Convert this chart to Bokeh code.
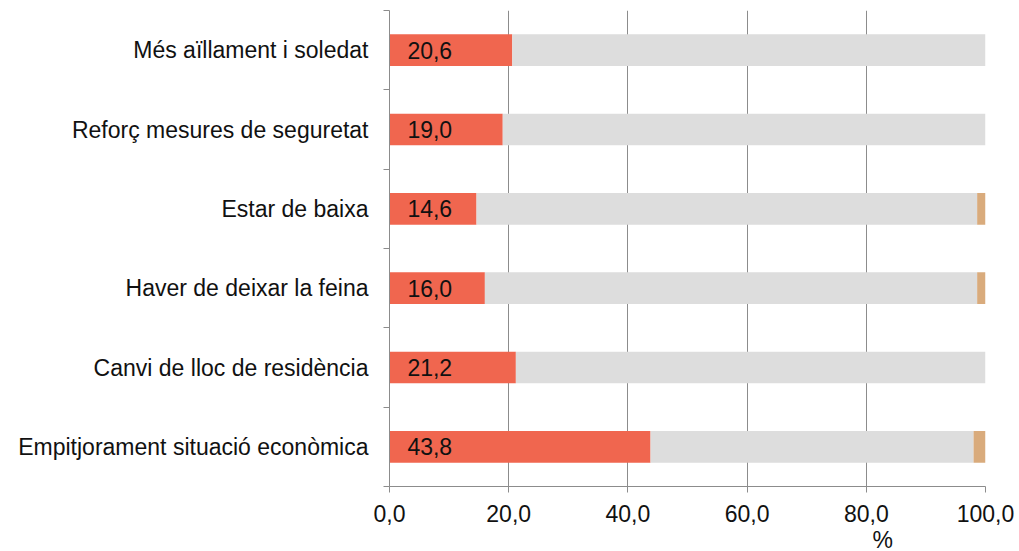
from bokeh.plotting import figure
from bokeh.models import (ColumnDataSource, Range1d, LinearAxis, FixedTicker, Title)
from bokeh.embed import file_html
from bokeh.resources import INLINE
from bokeh.core.properties import value

categories = ["Més aïllament i soledat", "Reforç mesures de seguretat", "Estar de baixa",
              "Haver de deixar la feina", "Canvi de lloc de residència",
              "Empitjorament situació econòmica"]
red_vals = [20.6, 19.0, 14.6, 16.0, 21.2, 43.8]
grey_vals = [79.4, 81.0, 84.0, 82.6, 78.8, 54.2]
tan_vals = [0.0, 0.0, 1.4, 1.4, 0.0, 2.0]
x_ticks = [0, 20, 40, 60, 80, 100]
x_tick_labels = ["0,0", "20,0", "40,0", "60,0", "80,0", "100,0"]
bar_labels = [f"{v:.1f}".replace(".", ",") for v in red_vals]
x_title = "%"

FONT = "Liberation Sans"
FS = "23px"
GRID = "#8c8c8c"
n = len(categories)
ypos = [n - 0.5 - i for i in range(n)]

src = ColumnDataSource(dict(y=ypos, red=red_vals, grey=grey_vals, tan=tan_vals,
                            lab=bar_labels, lx=[3.0] * n))

p = figure(y_range=Range1d(0, n), x_range=Range1d(0, 100),
           output_backend="svg", toolbar_location=None,
           y_axis_location=None, x_axis_location=None,
           frame_width=596, frame_height=476,
           min_border_left=389, min_border_right=34, min_border_top=10, min_border_bottom=65)
p.outline_line_color = None
p.background_fill_color = "white"

p.hbar_stack(["red", "grey", "tan"], y="y", height=0.4, source=src,
             color=["#f0664f", "#dddddd", "#d9ab7c"], line_color=None)

p.text(x="lx", y="y", text="lab", source=src, text_font=value(FONT),
       text_font_size=FS, text_align="left", text_baseline="middle", text_color="#111111")

# x axis
xa = LinearAxis(ticker=FixedTicker(ticks=x_ticks), major_label_overrides=dict(zip(x_ticks, x_tick_labels)))
xa.axis_line_color = GRID
xa.major_tick_line_color = GRID
xa.major_tick_out = 6
xa.major_tick_in = 0
xa.minor_tick_line_color = None
xa.major_label_text_font = FONT
xa.major_label_text_font_size = FS
xa.major_label_text_color = "#111111"
xa.major_label_standoff = 12
p.add_layout(xa, "below")

p.add_layout(Title(text=x_title, align="left", offset=483, text_font=FONT, text_font_size=FS,
                   text_font_style="normal", text_color="#111111", standoff=0), "below")

# boundary ticks on y (inner axis)
ya_b = LinearAxis(ticker=FixedTicker(ticks=list(range(n + 1))),
                  major_label_overrides={i: "" for i in range(n + 1)})
ya_b.axis_line_color = GRID
ya_b.major_tick_line_color = GRID
ya_b.major_tick_out = 6
ya_b.major_tick_in = 0
ya_b.minor_tick_line_color = None
ya_b.major_label_standoff = 0
ya_b.major_label_text_font_size = "1px"
p.add_layout(ya_b, "left")

# category labels (outer axis)
ya = LinearAxis(ticker=FixedTicker(ticks=ypos), major_label_overrides=dict(zip(ypos, categories)))
ya.axis_line_color = None
ya.major_tick_line_color = None
ya.minor_tick_line_color = None
ya.major_tick_out = 0
ya.major_label_text_font = FONT
ya.major_label_text_font_size = FS
ya.major_label_text_color = "#111111"
ya.major_label_standoff = 15
p.add_layout(ya, "left")

p.xgrid.ticker = FixedTicker(ticks=x_ticks)
p.xgrid.grid_line_color = GRID
p.ygrid.grid_line_color = None

open("out.html", "w").write(file_html(p, INLINE))
